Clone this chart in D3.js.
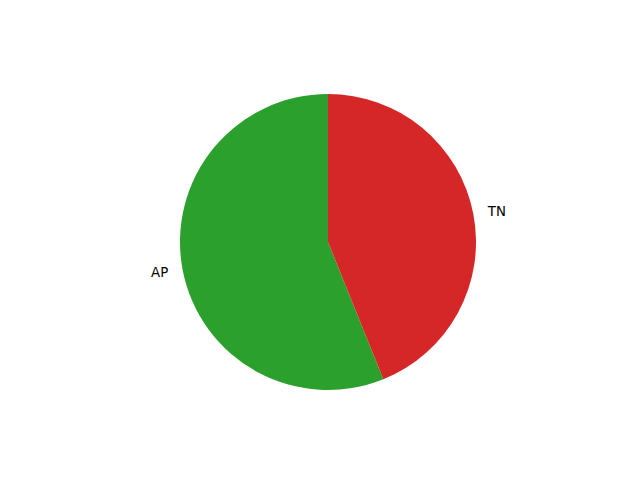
<!DOCTYPE html>
<html><head><meta charset="utf-8">
<script src="https://cdn.jsdelivr.net/npm/d3@7"></script>
<style>body{margin:0;background:#fff}</style>
</head><body>
<svg id="c" width="640" height="480"></svg>
<script>
const categories = ["AP", "TN"];
const values = [23, 18];
const colors = ["#2ca02c", "#d62728"];

const svg = d3.select("#c");
const cx = 328, cy = 242, r = 148;
const g = svg.append("g").attr("transform", `translate(${cx},${cy})`);
const pie = d3.pie().sort(null).startAngle(0).endAngle(-2 * Math.PI);
const arcs = pie(values);
const arc = d3.arc().innerRadius(0).outerRadius(r);
g.selectAll("path").data(arcs).enter().append("path")
  .attr("d", arc).attr("fill", (d, i) => colors[i]);
g.selectAll("text").data(arcs).enter().append("text")
  .each(function(d, i) {
    const a = (d.startAngle + d.endAngle) / 2;
    const x = Math.sin(a) * r * 1.1, y = -Math.cos(a) * r * 1.1;
    d3.select(this).attr("x", x).attr("y", y)
      .attr("text-anchor", x > 0 ? "start" : "end")
      .attr("dominant-baseline", "central")
      .text(categories[i]);
  })
  .attr("font-family", "DejaVu Sans").attr("font-size", "13.33px").attr("fill", "#000");
</script>
</body></html>
